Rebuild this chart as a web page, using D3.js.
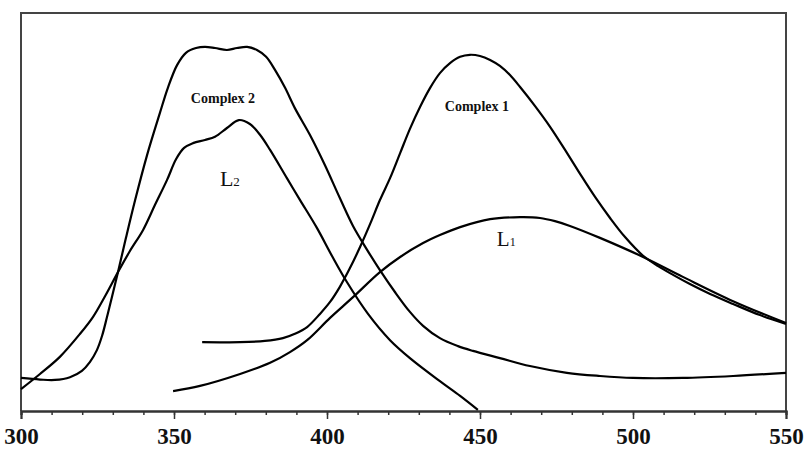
<!DOCTYPE html>
<html>
<head>
<meta charset="utf-8">
<title>Emission spectra</title>
<script src="https://d3js.org/d3.v7.min.js"></script>
<style>
    body { margin: 0; background: #fff; }
    svg text { font-family: 'Liberation Serif', 'Times New Roman', serif; fill: #111; }
</style>
</head>
<body>
<script>
// DATA  (wavelength nm, relative intensity 0-100)
var complex2 = [
    [300.0, 8.3], [306.2, 7.9], [311.1, 7.8], [316.0, 8.5], [319.9, 10.1],
    [322.5, 12.3], [324.8, 15.3], [326.5, 18.9], [328.1, 23.6], [329.7, 28.6],
    [331.7, 34.9], [334.3, 43.5], [337.3, 53.0], [341.2, 64.3], [345.4, 74.9],
    [348.0, 81.2], [351.0, 86.9], [353.9, 90.0], [357.2, 91.2], [360.1, 91.5],
    [363.4, 91.2], [367.3, 90.7], [370.6, 91.2], [373.9, 91.5], [377.1, 90.7],
    [380.1, 89.0], [383.0, 85.7], [386.3, 81.2], [389.5, 76.1], [394.4, 69.4],
    [399.3, 61.8], [404.2, 53.5], [408.5, 46.5], [413.1, 40.5], [417.3, 35.4],
    [422.2, 29.9], [427.1, 24.9], [431.4, 21.4], [436.9, 18.3], [442.8, 16.3],
    [447.7, 15.1], [456.5, 13.3], [466.3, 11.3], [478.4, 9.6], [489.2, 8.8],
    [500.0, 8.3], [516.3, 8.3], [532.7, 8.8], [550.0, 9.6]
];
var ligand2 = [
    [300.0, 5.5], [306.2, 9.3], [312.7, 13.6], [319.3, 19.4], [323.5, 23.6],
    [327.5, 28.9], [331.7, 34.9], [335.6, 40.2], [339.9, 45.5], [343.8, 51.8],
    [347.7, 58.0], [350.7, 63.3], [353.3, 66.1], [356.2, 67.3], [360.1, 68.1],
    [363.4, 68.9], [367.3, 71.1], [371.2, 73.1], [374.8, 72.1], [378.1, 69.4],
    [381.4, 65.6], [386.9, 58.5], [391.2, 53.0], [396.7, 46.0], [401.6, 39.0],
    [406.5, 32.4], [413.4, 24.4], [420.6, 17.8], [427.1, 13.3], [436.9, 7.5],
    [443.5, 3.8], [449.3, 0.3]
];
var complex1 = [
    [359.2, 17.3], [371.6, 17.3], [379.7, 17.6], [385.6, 18.3], [389.5, 19.4],
    [393.5, 21.1], [397.7, 24.4], [401.0, 27.4], [404.2, 31.2], [407.5, 35.9],
    [410.8, 41.2], [414.1, 47.0], [417.3, 53.0], [420.6, 58.5], [423.9, 64.8],
    [427.1, 70.9], [430.4, 76.4], [433.7, 81.2], [436.9, 84.9], [440.2, 87.4],
    [443.5, 89.0], [446.7, 89.5], [450.0, 89.2], [453.3, 88.2], [456.5, 86.7],
    [459.8, 84.4], [463.1, 81.4], [468.0, 76.6], [472.9, 71.4], [477.8, 65.6],
    [482.7, 59.6], [487.6, 53.8], [492.5, 48.5], [497.4, 43.7], [503.3, 39.0],
    [508.2, 36.4], [513.1, 34.2], [518.6, 31.9], [525.2, 29.4], [532.7, 26.9],
    [541.5, 24.1], [550.0, 21.9]
];
var ligand1 = [
    [349.7, 5.0], [358.5, 6.3], [371.6, 9.3], [381.4, 12.1], [387.9, 14.8],
    [393.5, 17.8], [401.0, 23.4], [408.5, 28.6], [417.3, 34.9], [423.9, 38.7],
    [431.4, 42.2], [436.9, 44.2], [443.5, 46.2], [453.3, 48.2], [463.1, 48.7],
    [469.6, 48.5], [474.5, 47.7], [479.4, 46.5], [489.2, 43.5], [503.3, 38.7],
    [516.3, 33.7], [532.7, 27.6], [550.0, 22.1]
];
var majorTicks = [300, 350, 400, 450, 500, 550];
var minorTicks = d3.range(300, 551, 10);

// LAYOUT
var W = 806, H = 449;
var x = d3.scaleLinear().domain([300, 550]).range([21, 786]);
var y = d3.scaleLinear().domain([0, 100]).range([411, 13]);

var svg = d3.select('body').append('svg')
    .attr('width', W).attr('height', H);

// frame
svg.append('path')
    .attr('d', 'M' + x(300) + ',' + y(0) + 'V' + y(100) + 'H' + x(550) + 'V' + y(0))
    .attr('fill', 'none').attr('stroke', '#444').attr('stroke-width', 2);

// axes
var minor = svg.append('g').attr('transform', 'translate(0,' + y(0) + ')')
    .call(d3.axisBottom(x).tickValues(minorTicks).tickSize(4).tickFormat(''));
var major = svg.append('g').attr('transform', 'translate(0,' + y(0) + ')')
    .call(d3.axisBottom(x).tickValues(majorTicks).tickSize(8).tickPadding(9).tickFormat(d3.format('d')));
[minor, major].forEach(function(g) {
    g.select('.domain').attr('stroke', '#333').attr('stroke-width', 2);
    g.selectAll('.tick line').attr('stroke', '#333').attr('stroke-width', 1.5);
});
major.selectAll('.tick text')
    .attr('font-size', 23).attr('font-weight', 'bold')
    .attr('font-family', "'Liberation Serif', serif").attr('fill', '#111');

// curves
var line = d3.line()
    .x(function(d) { return x(d[0]); })
    .y(function(d) { return y(d[1]); })
    .curve(d3.curveCatmullRom.alpha(0.5));

[complex2, ligand2, complex1, ligand1].forEach(function(s) {
    svg.append('path').datum(s)
        .attr('d', line)
        .attr('fill', 'none')
        .attr('stroke', '#000')
        .attr('stroke-width', 2.2)
        .attr('stroke-linejoin', 'round');
});

// labels
svg.append('text').attr('x', x(366)).attr('y', y(77.5))
    .attr('text-anchor', 'middle').attr('font-size', 14).attr('font-weight', 'bold')
    .text('Complex 2');
svg.append('text').attr('x', x(449)).attr('y', y(75.5))
    .attr('text-anchor', 'middle').attr('font-size', 14).attr('font-weight', 'bold')
    .text('Complex 1');

var l2 = svg.append('text').attr('x', x(365)).attr('y', y(56.5)).attr('font-size', 22);
l2.append('tspan').text('L');
l2.append('tspan').attr('font-size', 13).text('2');

var l1 = svg.append('text').attr('x', x(455.5)).attr('y', y(41.5)).attr('font-size', 21);
l1.append('tspan').text('L');
l1.append('tspan').attr('font-size', 12).text('1');
</script>
</body>
</html>
